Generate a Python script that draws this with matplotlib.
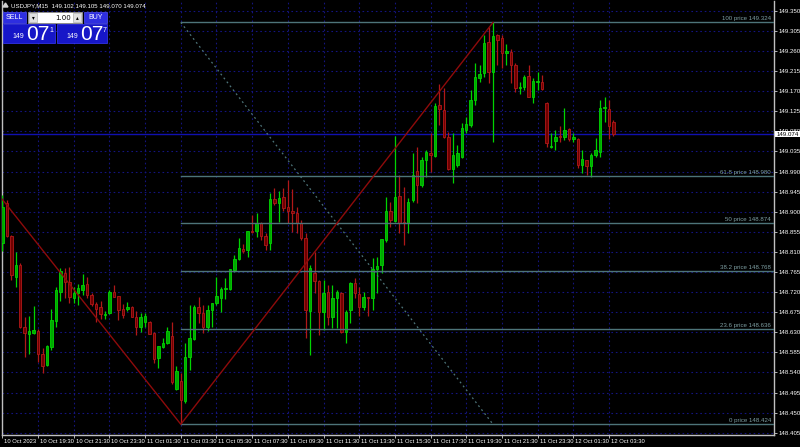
import matplotlib
matplotlib.use("Agg")
import numpy as np
import matplotlib.pyplot as plt
import matplotlib.transforms as mtransforms
from matplotlib.patches import Rectangle, Polygon

# narrow font for the tiny MT4 style labels, fall back to normal sans
plt.rcParams["font.family"] = ["Liberation Sans Narrow", "Liberation Sans", "DejaVu Sans"]

symbol = "USDJPY,M15"

# USDJPY M15 candles, 10 Oct 17:30 .. 12 Oct 03:45
opens = [148.830, 148.919, 148.845, 148.753, 148.781, 148.642, 148.626, 148.628, 148.633, 148.581,
         148.557, 148.597, 148.655, 148.720, 148.763, 148.743, 148.707, 148.718, 148.725, 148.738,
         148.713, 148.693, 148.687, 148.669, 148.673, 148.720, 148.711, 148.682, 148.682, 148.687,
         148.664, 148.642, 148.653, 148.653, 148.628, 148.572, 148.597, 148.606, 148.622, 148.503,
         148.521, 148.476, 148.575, 148.615, 148.687, 148.673, 148.642, 148.680, 148.696, 148.707,
         148.727, 148.727, 148.769, 148.794, 148.816, 148.814, 148.857, 148.857, 148.875, 148.846,
         148.830, 148.928, 148.919, 148.933, 148.911, 148.902, 148.897, 148.875, 148.841, 148.678,
         148.763, 148.745, 148.675, 148.720, 148.664, 148.707, 148.718, 148.631, 148.680, 148.740,
         148.716, 148.687, 148.709, 148.707, 148.772, 148.781, 148.837, 148.902, 148.879, 148.935,
         148.877, 148.875, 148.926, 148.991, 148.960, 149.016, 149.031, 149.025, 149.139, 149.128,
         149.067, 148.996, 149.005, 149.022, 149.083, 149.094, 149.150, 149.199, 149.211, 149.280,
         149.213, 149.296, 149.289, 149.255, 149.258, 149.228, 149.177, 149.179, 149.204, 149.157,
         149.190, 149.190, 149.143, 149.045, 149.058, 149.069, 149.067, 149.085, 149.063, 149.063,
         149.005, 149.016, 149.002, 149.027, 149.034, 149.132, 149.130, 149.102]
highs = [148.937, 148.926, 148.847, 148.810, 148.785, 148.665, 148.667, 148.689, 148.637, 148.595,
         148.601, 148.682, 148.731, 148.774, 148.774, 148.776, 148.731, 148.738, 148.760, 148.754,
         148.718, 148.698, 148.700, 148.678, 148.725, 148.736, 148.711, 148.693, 148.698, 148.689,
         148.678, 148.673, 148.673, 148.655, 148.630, 148.599, 148.617, 148.642, 148.653, 148.555,
         148.539, 148.606, 148.691, 148.691, 148.709, 148.691, 148.691, 148.696, 148.754, 148.731,
         148.752, 148.772, 148.803, 148.841, 148.828, 148.857, 148.893, 148.897, 148.877, 148.852,
         148.942, 148.953, 148.946, 148.953, 148.971, 148.951, 148.911, 148.881, 148.852, 148.781,
         148.810, 148.747, 148.747, 148.736, 148.736, 148.725, 148.720, 148.680, 148.743, 148.752,
         148.731, 148.720, 148.709, 148.796, 148.799, 148.839, 148.933, 148.922, 149.069, 148.982,
         148.955, 148.931, 149.031, 149.045, 149.022, 149.038, 149.076, 149.143, 149.186, 149.177,
         149.078, 149.076, 149.049, 149.099, 149.112, 149.172, 149.233, 149.228, 149.296, 149.314,
         149.324, 149.298, 149.296, 149.275, 149.264, 149.233, 149.190, 149.206, 149.228, 149.199,
         149.213, 149.206, 149.146, 149.076, 149.083, 149.092, 149.132, 149.087, 149.076, 149.065,
         149.038, 149.016, 149.031, 149.065, 149.150, 149.157, 149.150, 149.105]
lows = [148.812, 148.843, 148.747, 148.731, 148.640, 148.575, 148.581, 148.626, 148.563, 148.539,
        148.554, 148.590, 148.642, 148.700, 148.707, 148.696, 148.696, 148.691, 148.713, 148.707,
        148.689, 148.653, 148.660, 148.660, 148.671, 148.709, 148.658, 148.662, 148.678, 148.664,
        148.624, 148.631, 148.642, 148.626, 148.561, 148.550, 148.595, 148.604, 148.514, 148.501,
        148.424, 148.472, 148.546, 148.613, 148.651, 148.628, 148.633, 148.642, 148.691, 148.675,
        148.705, 148.725, 148.765, 148.792, 148.807, 148.799, 148.852, 148.843, 148.837, 148.814,
        148.814, 148.915, 148.877, 148.902, 148.875, 148.855, 148.852, 148.837, 148.617, 148.579,
        148.718, 148.624, 148.635, 148.646, 148.640, 148.640, 148.628, 148.606, 148.651, 148.707,
        148.667, 148.680, 148.667, 148.680, 148.718, 148.763, 148.832, 148.866, 148.877, 148.852,
        148.825, 148.852, 148.922, 148.919, 148.955, 148.978, 148.989, 149.022, 149.094, 149.065,
        148.993, 148.964, 149.000, 149.020, 149.076, 149.090, 149.139, 149.190, 149.202, 149.188,
        149.056, 149.228, 149.222, 149.228, 149.188, 149.168, 149.164, 149.172, 149.157, 149.143,
        149.172, 149.172, 149.045, 149.043, 149.038, 149.056, 149.061, 149.058, 149.056, 148.998,
        148.987, 148.982, 148.978, 149.022, 149.022, 149.101, 149.063, 149.070]
closes = [148.910, 148.846, 148.758, 148.781, 148.642, 148.628, 148.633, 148.635, 148.581, 148.554,
          148.599, 148.658, 148.725, 148.767, 148.743, 148.709, 148.718, 148.729, 148.736, 148.713,
          148.693, 148.682, 148.671, 148.671, 148.720, 148.709, 148.680, 148.669, 148.687, 148.665,
          148.642, 148.664, 148.667, 148.626, 148.570, 148.599, 148.606, 148.633, 148.519, 148.543,
          148.478, 148.575, 148.617, 148.687, 148.673, 148.642, 148.680, 148.696, 148.711, 148.727,
          148.729, 148.772, 148.794, 148.819, 148.812, 148.857, 148.855, 148.875, 148.846, 148.825,
          148.928, 148.919, 148.931, 148.908, 148.902, 148.897, 148.875, 148.841, 148.680, 148.774,
          148.745, 148.675, 148.718, 148.664, 148.707, 148.720, 148.631, 148.675, 148.740, 148.718,
          148.687, 148.709, 148.707, 148.772, 148.778, 148.839, 148.902, 148.881, 148.933, 148.875,
          148.875, 148.922, 148.982, 148.960, 149.016, 149.034, 149.027, 149.137, 149.130, 149.067,
          148.996, 149.027, 149.031, 149.087, 149.096, 149.150, 149.202, 149.208, 149.278, 149.213,
          149.293, 149.284, 149.255, 149.260, 149.228, 149.177, 149.179, 149.202, 149.157, 149.193,
          149.193, 149.175, 149.054, 149.047, 149.067, 149.067, 149.083, 149.063, 149.067, 149.005,
          149.018, 149.002, 149.027, 149.038, 149.132, 149.134, 149.092, 149.074]

timeLabels = ["10 Oct 2023", "10 Oct 19:30", "10 Oct 21:30", "10 Oct 23:30", "11 Oct 01:30",
              "11 Oct 03:30", "11 Oct 05:30", "11 Oct 07:30", "11 Oct 09:30", "11 Oct 11:30",
              "11 Oct 13:30", "11 Oct 15:30", "11 Oct 17:30", "11 Oct 19:30", "11 Oct 21:30",
              "11 Oct 23:30", "12 Oct 01:30", "12 Oct 03:30"]
barsPerLabel = 8

priceTicks = [149.350, 149.305, 149.260, 149.215, 149.170, 149.125, 149.080, 149.035, 148.990,
              148.945, 148.900, 148.855, 148.810, 148.765, 148.720, 148.675, 148.630, 148.585,
              148.540, 148.495, 148.450, 148.405]

# fibonacci retracement and zigzag pivots
fibLevels = [0, 23.6, 38.2, 50, 61.8, 100]
fibLow = 148.424
fibHigh = 149.324
fibBars = [40, 110]
zigzagBars = [-1, 40, 110]
zigzagPrices = [148.940, 148.424, 149.324]

bidPrice = 149.074
ohlcHeader = [149.102, 149.105, 149.070, 149.074]

# colours
bg = "black"
gridColor = "#14147e"
upBody, upEdge = "#00a800", "#00d400"
dnBody, dnEdge = "#700000", "#b01818"
fibColor = "#4d7479"
fibText = "#7fa0a4"
labelSize = 4.4

W, H = 800, 447
fig = plt.figure(figsize=(W / 100, H / 100), dpi=100, facecolor=bg)
ax = fig.add_axes([1.5 / W, (H - 435) / H, (774 - 1.5) / W, (435 - 1) / H])
ax.set_facecolor(bg)

o = np.array(opens)
h = np.array(highs)
l = np.array(lows)
c = np.array(closes)
xs = np.arange(len(o))
up = c >= o
bodyLow = np.minimum(o, c)
bodyH = np.maximum(np.abs(c - o), 0.0012)

ax.vlines(xs[up], l[up], h[up], color=upEdge, lw=0.9, zorder=3)
ax.vlines(xs[~up], l[~up], h[~up], color=dnEdge, lw=0.9, zorder=3)
ax.bar(xs[up], bodyH[up], bottom=bodyLow[up], width=0.55, color=upBody,
       edgecolor=upEdge, linewidth=0.6, zorder=4)
ax.bar(xs[~up], bodyH[~up], bottom=bodyLow[~up], width=0.55, color=dnBody,
       edgecolor=dnEdge, linewidth=0.6, zorder=4)

xMax = 173.0
ax.set_xlim(-0.2, xMax)
ax.set_ylim(148.400, 149.372)

# fibo levels
fibTrans = mtransforms.blended_transform_factory(ax.transAxes, ax.transData)
for lvl in fibLevels:
    price = fibLow + (fibHigh - fibLow) * lvl / 100
    ax.plot([fibBars[0], xMax], [price, price], color=fibColor, lw=1.0, zorder=5)
    ax.text(0.996, price + 0.0025, f"{lvl:g} price {price:.3f}", transform=fibTrans,
            ha="right", va="bottom", fontsize=labelSize, color=fibText, zorder=6)
ax.plot(fibBars, [fibHigh, fibLow], color=fibColor, lw=0.9, linestyle=(0, (1.5, 2.5)), zorder=5)

# zigzag
ax.plot(zigzagBars, zigzagPrices, color="#8e0b0b", lw=1.0, zorder=5)

# bid line
ax.axhline(bidPrice, color="#1010b0", lw=1.0, zorder=2)

# grid + axes look
ax.set_xticks(xs[::barsPerLabel][:len(timeLabels)])
ax.set_xticklabels(timeLabels, ha="left")
ax.set_yticks(priceTicks)
ax.set_yticklabels([f"{p:.3f}" for p in priceTicks])
ax.yaxis.tick_right()
ax.tick_params(axis="both", colors="#d0d0d0", labelcolor="white", labelsize=labelSize,
               length=2, width=0.6, pad=1.0)
ax.tick_params(axis="x", labelsize=4.2)
for lab in ax.get_xticklabels():
    # MT4 puts the label a couple of pixels right of its tick
    lab.set_transform(lab.get_transform() + mtransforms.Affine2D().translate(2, 0))
ax.grid(True, color=gridColor, linestyle=(0, (1.5, 2.5)), linewidth=0.8)
ax.set_axisbelow(True)
for side in ["left", "right", "bottom"]:
    ax.spines[side].set_color("#c0c0c0")
    ax.spines[side].set_linewidth(1.0)
ax.spines["top"].set_visible(False)

ax.text(1.003, bidPrice, f"{bidPrice:.3f}", transform=fibTrans, ha="left", va="center",
        fontsize=labelSize, color="black", clip_on=False, zorder=10,
        bbox=dict(boxstyle="square,pad=0.15", fc="white", ec="white", lw=0))

# header and one click trading panel, in pixel coords
ov = fig.add_axes([0, 0, 1, 1])
ov.set_xlim(0, W)
ov.set_ylim(H, 0)
ov.axis("off")

ov.add_patch(Polygon([[3, 7], [5.5, 3], [8, 7]], closed=True, color="#d0d0d0"))
ov.text(11, 5.5, "{}  {:.3f} {:.3f} {:.3f} {:.3f}".format(symbol, *ohlcHeader),
        fontsize=labelSize, color="white", va="center", ha="left")

btnColor = "#2e2ee0"
panelColor = "#1616c8"
ov.add_patch(Rectangle((3, 12), 23, 11, fc=btnColor, ec="#5050ff", lw=0.5))
ov.text(14.5, 17.5, "SELL", color="white", fontsize=5, ha="center", va="center",
        family=["Liberation Sans"])
ov.add_patch(Rectangle((84, 12), 23, 11, fc=btnColor, ec="#5050ff", lw=0.5))
ov.text(95.5, 17.5, "BUY", color="white", fontsize=5, ha="center", va="center",
        family=["Liberation Sans"])

# volume spin box
ov.add_patch(Rectangle((28, 12), 54, 11, fc="white", ec="#909090", lw=0.6))
ov.add_patch(Rectangle((29, 13), 8, 9, fc="#e0e0e0", ec="#a0a0a0", lw=0.4))
ov.add_patch(Rectangle((73, 13), 8, 9, fc="#e0e0e0", ec="#a0a0a0", lw=0.4))
ov.text(33, 17.5, "▾", fontsize=4, ha="center", va="center", color="black",
        family=["DejaVu Sans"])
ov.text(77, 17.5, "▴", fontsize=4, ha="center", va="center", color="black",
        family=["DejaVu Sans"])
ov.text(71, 17.5, "1.00", fontsize=5, ha="right", va="center", color="black",
        family=["DejaVu Sans"])

# bid / ask boxes
for x0, big, small in [(3, "07", "1"), (57, "07", "7")]:
    ov.add_patch(Rectangle((x0, 24), 52 if x0 == 3 else 50, 19, fc=panelColor,
                           ec="#3a3aff", lw=0.5))
    ov.text(x0 + 9, 38, "149", color="white", fontsize=5, ha="left", va="baseline",
            family=["Liberation Sans"])
    ov.text(x0 + 23, 40.5, big, color="white", fontsize=15, ha="left", va="baseline",
            family=["Liberation Sans"])
    ov.text(x0 + 46, 30, small, color="white", fontsize=5, ha="left", va="center",
            family=["Liberation Sans"])

fig.savefig("out.png", dpi=100, facecolor=bg)
